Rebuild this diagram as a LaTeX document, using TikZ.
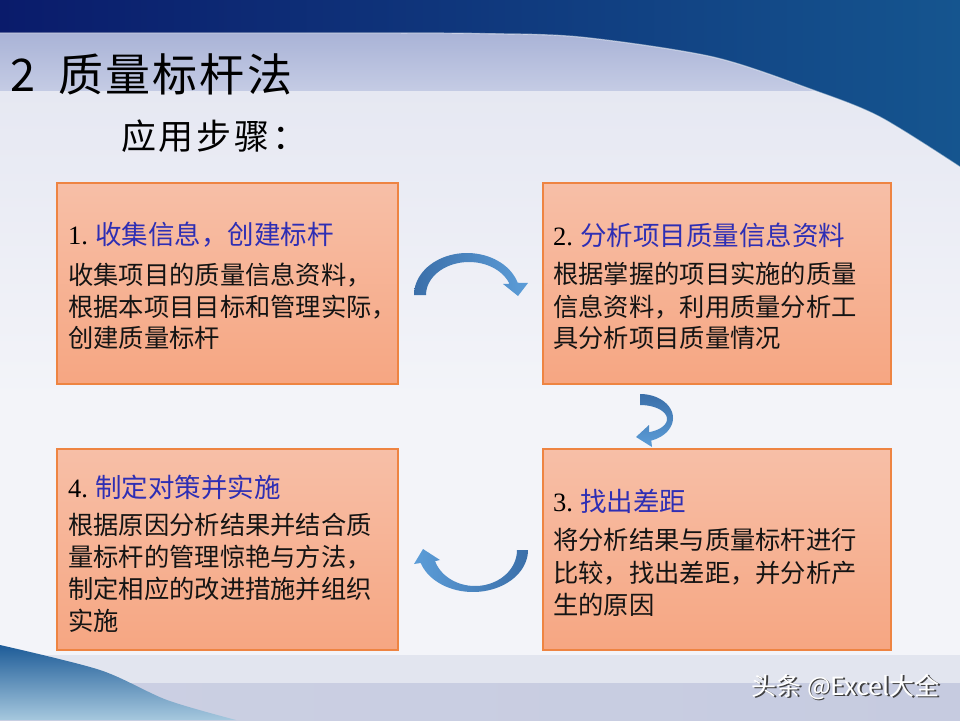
\documentclass[tikz,border=0pt]{standalone}
\usepackage{fontspec}
\setmainfont{Liberation Serif}
\newfontfamily\cjk{Noto Sans CJK SC}
\newfontfamily\cjkwide[LetterSpace=5]{Noto Sans CJK SC}
\newfontfamily\numf{Liberation Serif}
\definecolor{navyL}{HTML}{0A1B6B}
\definecolor{navyR}{HTML}{15558F}
\definecolor{bandT}{HTML}{A8B2D6}
\definecolor{bandB}{HTML}{C4CBE4}
\definecolor{bgT}{HTML}{E6E8F2}
\definecolor{bgB}{HTML}{F3F4F9}
\definecolor{boxtop}{HTML}{F7BFA7}
\definecolor{boxbot}{HTML}{F6A682}
\definecolor{boxedge}{HTML}{EE8442}
\definecolor{headblue}{HTML}{2E2EB4}
\definecolor{arrD}{HTML}{3B6FA9}
\definecolor{arrL}{HTML}{5C9DD8}
\definecolor{footA}{HTML}{E2E5EF}
\definecolor{footB}{HTML}{C6CBE0}
\definecolor{swT}{HTML}{1E5C98}
\definecolor{swB}{HTML}{A6C8DE}
\begin{document}
\begin{tikzpicture}[x=1pt,y=-1pt,
  stepbox/.style={draw=boxedge, line width=1.2pt, top color=boxtop, bottom color=boxbot,
    inner sep=0pt, minimum width=341pt, minimum height=201pt},
  headtxt/.style={anchor=west, inner sep=0pt, font=\fontsize{26.5pt}{30pt}\selectfont},
  bodytxt/.style={anchor=west, inner sep=0pt, font=\fontsize{25.3pt}{30pt}\cjk, text=black!92},
  wmtxt/.style={anchor=east, inner sep=0pt, font=\fontsize{25pt}{28pt}\cjk}]
\useasboundingbox (0,0) rectangle (960,720);
% background
\fill[bgB] (0,0) rectangle (960,720);
\shade[top color=bgT, bottom color=bgB] (0,90) rectangle (960,400);
\shade[top color=bandT, bottom color=bandB] (0,30) rectangle (815,90);
\shade[left color=navyL, right color=navyR] (0,0) -- (960,0) --
  plot[smooth] coordinates {(960,167) (880,117) (813,90) (713,57) (580,37) (480,33.5) (400,33)}
  -- (0,33) -- cycle;
\draw[white, opacity=0.5, line width=1.2pt]
  plot[smooth] coordinates {(960,167) (880,117) (813,90) (713,57) (580,37) (480,33.5) (400,33)} -- (0,33);
% footer
\fill[footA] (0,655) rectangle (960,683);
\shade[left color=footB!90!white, right color=footB] (0,683) rectangle (960,720);
\shade[top color=swT, bottom color=swB]
  plot[smooth] coordinates {(0,645) (100,670) (167,700) (236,720)} -- (0,720) -- cycle;
% titles
\node[anchor=west, inner sep=0pt, font=\fontsize{45pt}{50pt}\cjk] (title) at (10,74)
  {2\hspace{23pt}{\cjkwide 质量标杆法}};
\node[anchor=west, inner sep=0pt, font=\fontsize{35pt}{40pt}\selectfont] (sub) at (121,136)
  {\addfontfeatures{}\cjk\addfontfeature{LetterSpace=8}应用步骤：};
% boxes
\node[stepbox] (box1) at (227.5,283.5) {};
\node[stepbox, minimum width=348pt] (box2) at (717,283.5) {};
\node[stepbox, minimum width=348pt] (box3) at (717,549.5) {};
\node[stepbox] (box4) at (227.5,549.5) {};
% box 1
\node[headtxt] (h1) at (68,235) {{\numf 1.}\hspace{7pt}{\cjk\color{headblue}收集信息，创建标杆}};
\node[bodytxt] (b1a) at (68,275) {收集项目的质量信息资料，};
\node[bodytxt] (b1b) at (68,307) {根据本项目目标和管理实际，};
\node[bodytxt] (b1c) at (68,338) {创建质量标杆};
% box 2
\node[headtxt] (h2) at (553,235) {{\numf 2.}\hspace{7pt}{\cjk\color{headblue}分析项目质量信息资料}};
\node[bodytxt] (b2a) at (553,274) {根据掌握的项目实施的质量};
\node[bodytxt] (b2b) at (553,307) {信息资料，利用质量分析工};
\node[bodytxt] (b2c) at (553,338) {具分析项目质量情况};
% box 3
\node[headtxt] (h3) at (553,501) {{\numf 3.}\hspace{7pt}{\cjk\color{headblue}找出差距}};
\node[bodytxt] (b3a) at (553,540) {将分析结果与质量标杆进行};
\node[bodytxt] (b3b) at (553,573) {比较，找出差距，并分析产};
\node[bodytxt] (b3c) at (553,605) {生的原因};
% box 4
\node[headtxt] (h4) at (68,487) {{\numf 4.}\hspace{7pt}{\cjk\color{headblue}制定对策并实施}};
\node[bodytxt] (b4a) at (68,525) {根据原因分析结果并结合质};
\node[bodytxt] (b4b) at (68,557) {量标杆的管理惊艳与方法，};
\node[bodytxt] (b4c) at (68,589) {制定相应的改进措施并组织};
\node[bodytxt] (b4d) at (68,621) {实施};
% curved arrows
\shade[left color=arrD, right color=arrL]
  plot[domain=180:343,samples=40] ({467+53*cos(\x)},{295+42*sin(\x)})
  -- (528,283) -- (518,296) -- (503,284)
  -- plot[domain=340:180,samples=40] ({469+43*cos(\x)},{295+33*sin(\x)}) -- cycle;
\shade[top color=arrD, bottom color=arrL]
  plot[domain=270:430,samples=40] ({640+33*cos(\x)},{418+24*sin(\x)})
  -- (652,447) -- (636,437) -- (649,425)
  -- plot[domain=430:270,samples=40] ({640+27*cos(\x)},{419+14*sin(\x)}) -- cycle;
\shade[left color=arrL, right color=arrD]
  plot[domain=0:162,samples=40] ({473+55*cos(\x)},{550+42*sin(\x)})
  -- (414,564) -- (423,549) -- (440,560)
  -- plot[domain=162:0,samples=40] ({475+42*cos(\x)},{550+36*sin(\x)}) -- cycle;
% watermark
\node[wmtxt, text=black!75] (wmshadow) at (941.5,688.5) {头条 @Excel大全};
\node[wmtxt, text=white] (wm) at (940,687) {头条 @Excel大全};
\end{tikzpicture}
\end{document}
